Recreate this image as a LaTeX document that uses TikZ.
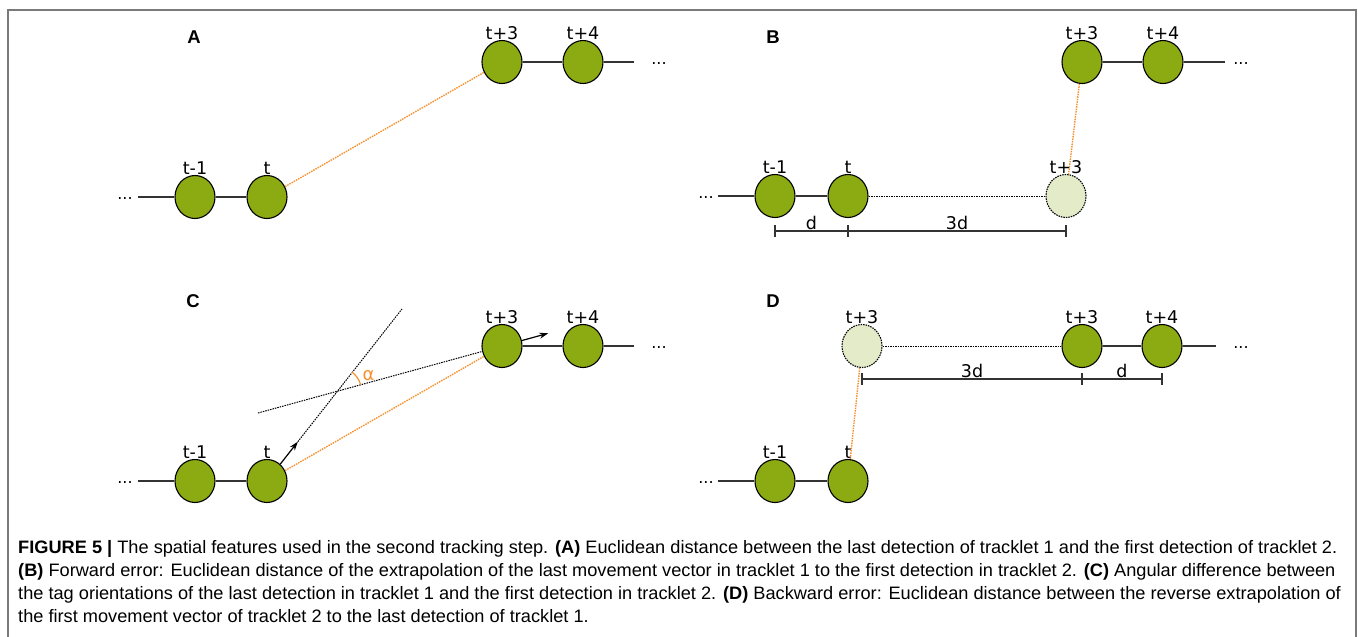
\documentclass[tikz,border=0pt]{standalone}
\usepackage{fontspec}
\setmainfont{DejaVu Sans}
\newfontfamily\capfont{Liberation Sans}
\usetikzlibrary{shapes.geometric,arrows.meta,calc,positioning}

\definecolor{detgreen}{HTML}{8CAA12}
\definecolor{ghostgreen}{HTML}{E3EBC8}
\definecolor{linkorange}{HTML}{F5922F}
\definecolor{framegray}{HTML}{7A7A7A}
\definecolor{chaingray}{HTML}{333333}
\newsavebox{\capbox}
\newcommand{\capfirst}{\textbf{FIGURE 5 |} The spatial features used in the second tracking step. \textbf{(A)} Euclidean distance between the last detection of tracklet 1 and the first detection of tracklet 2.}

\begin{document}
\sbox{\capbox}{\capfont\fontsize{18}{22}\selectfont\capfirst}%
\pgfmathsetmacro{\capsx}{1319/\the\wd\capbox}%
\begin{tikzpicture}[x=1pt, y=-1pt, node distance={72pt},
  det/.style = {draw, ellipse, fill=detgreen, line width=1.1pt, minimum width=40pt, minimum height=43pt, inner sep=0pt},
  ghost/.style = {det, fill=ghostgreen, dash pattern=on 1.5pt off 1pt},
  tlabel/.style = {font=\fontsize{17.5}{19}\selectfont, inner sep=0.5pt},
  dots/.style = {font=\fontsize{16}{18}\selectfont, anchor=base, inner sep=0pt},
  panel/.style = {font=\capfont\bfseries\fontsize{18.5}{20}\selectfont},
  chain/.style = {chaingray, line width=1.3pt},
  link/.style = {linkorange, line width=1.4pt, dash pattern=on 1.5pt off 1pt},
  guide/.style = {black, line width=1pt, dash pattern=on 1.5pt off 1pt},
  vec/.style = {-{Stealth[length=9pt,width=6pt]}, line width=1.2pt},
  dim/.style = {chaingray, line width=1.2pt},
  dimlbl/.style = {text=black, font=\fontsize{17.5}{19}\selectfont, above, inner sep=1pt},
  capline/.style = {anchor=base west, inner sep=0pt, font=\capfont\fontsize{18}{22}\selectfont}]

\useasboundingbox (0,0) rectangle (1358,637);
\draw[framegray, line width=1.5pt] (8,637) -- (8,10) -- (1356,10) -- (1356,637);

% panel A
\node[panel] (pA) at (194,37) {A};
\node[dots] (Adl) at (125,199) {...};
\coordinate (Abeg) at (138,197);
\node[det, label={[tlabel]above:t-1}] (A1) at (195,197) {};
\node[det, label={[tlabel]above:t}] (A2) [right of=A1] {};
\node[det, label={[tlabel]above:t+3}] (A3) at (502,62) {};
\node[det, label={[tlabel]above:t+4}] (A4) [right of=A3, node distance=81pt] {};
\coordinate (Aend) at (634,62);
\node[dots] (Adr) at (659,64) {...};
\draw[chain] (Abeg) -- (A1) -- (A2);
\draw[chain] (A3) -- (A4) -- (Aend);
\draw[link] (A2) -- (A3);

% panel B
\node[panel] (pB) at (773,37) {B};
\node[dots] (Bdl) at (706,198) {...};
\coordinate (Bbeg) at (718,196);
\node[det, label={[tlabel]above:t-1}] (B1) at (775,196) {};
\node[det, label={[tlabel]above:t}] (B2) [right of=B1, node distance=73pt] {};
\node[ghost, label={[tlabel]above:t+3}] (Bg) at (1066,196) {};
\node[det, label={[tlabel]above:t+3}] (B3) at (1082,62) {};
\node[det, label={[tlabel]above:t+4}] (B4) [right of=B3, node distance=81pt] {};
\coordinate (Bend) at (1225,62);
\node[dots] (Bdr) at (1241,64) {...};
\draw[chain] (Bbeg) -- (B1) -- (B2);
\draw[guide] (B2) -- (Bg);
\draw[chain] (B3) -- (B4) -- (Bend);
\draw[link] (B3) -- (Bg);
\coordinate (Bd1) at ($(B1)+(0,35)$);
\coordinate (Bd2) at ($(B2)+(0,35)$);
\coordinate (Bd3) at ($(Bg)+(0,35)$);
\draw[dim] (Bd1) -- node[dimlbl] {d} (Bd2) -- node[dimlbl] {3d} (Bd3);
\foreach \p in {Bd1,Bd2,Bd3}
  \draw[dim] ($(\p)+(0,-6)$) -- ($(\p)+(0,6)$);

% panel C
\node[panel] (pC) at (193,301) {C};
\node[dots] (Cdl) at (125,483) {...};
\coordinate (Cbeg) at (138,481);
\node[det, label={[tlabel]above:t-1}] (C1) at (195,481) {};
\node[det, label={[tlabel]above:t}] (C2) [right of=C1] {};
\node[det, label={[tlabel]above:t+3}] (C3) at (502,346) {};
\node[det, label={[tlabel]above:t+4}] (C4) [right of=C3, node distance=81pt] {};
\coordinate (Cend) at (634,346);
\node[dots] (Cdr) at (659,348) {...};
\draw[chain] (Cbeg) -- (C1) -- (C2);
\draw[chain] (C3) -- (C4) -- (Cend);
\coordinate (Ctop) at (402,309);
\coordinate (Cfar) at (258,413);
\coordinate (Ctip) at ($(C2)!50pt!(Ctop)$);
\coordinate (C3tip) at ($(C3)!-48pt!(Cfar)$);
\draw[guide] (Ctip) -- (Ctop);
\draw[guide] (Cfar) -- (C3);
\draw[link] (C2) -- (C3);
\draw[vec] (C2) -- (Ctip);
\draw[vec] (C3) -- (C3tip);
\coordinate (Cx) at (intersection of C2--Ctop and Cfar--C3);
\draw[linkorange, line width=1.2pt] (Cx) ++(-15.6:24) arc[start angle=-15.6, end angle=-52.1, radius=24];
\node[text=linkorange, font=\fontsize{18}{19}\selectfont] (alph) at ($(Cx)+(31,-16)$) {α};

% panel D
\node[panel] (pD) at (773,301) {D};
\node[dots] (Ddl) at (706,483) {...};
\coordinate (Dbeg) at (718,481);
\node[det, label={[tlabel]above:t-1}] (D1) at (775,481) {};
\node[det, label={[tlabel]above:t}] (D2) [right of=D1, node distance=73pt] {};
\node[ghost, label={[tlabel]above:t+3}] (Dg) at (862,346) {};
\node[det, label={[tlabel]above:t+3}] (D3) at (1082,346) {};
\node[det, label={[tlabel]above:t+4}] (D4) [right of=D3, node distance=80pt] {};
\coordinate (Dend) at (1216,346);
\node[dots] (Ddr) at (1241,348) {...};
\draw[chain] (Dbeg) -- (D1) -- (D2);
\draw[guide] (Dg) -- (D3);
\draw[chain] (D3) -- (D4) -- (Dend);
\draw[link] (Dg) -- (D2);
\coordinate (Dd1) at ($(Dg)+(0,33)$);
\coordinate (Dd2) at ($(D3)+(0,33)$);
\coordinate (Dd3) at ($(D4)+(0,33)$);
\draw[dim] (Dd1) -- node[dimlbl] {3d} (Dd2) -- node[dimlbl] {d} (Dd3);
\foreach \p in {Dd1,Dd2,Dd3}
  \draw[dim] ($(\p)+(0,-6)$) -- ($(\p)+(0,6)$);

% caption
\node[capline] (cap1) at (18,553) {\scalebox{\capsx}[1]{\capfirst}};
\node[capline] (cap2) at (18,576) {\scalebox{\capsx}[1]{\textbf{(B)} Forward error: Euclidean distance of the extrapolation of the last movement vector in tracklet 1 to the first detection in tracklet 2. \textbf{(C)} Angular difference between}};
\node[capline] (cap3) at (18,599) {\scalebox{\capsx}[1]{the tag orientations of the last detection in tracklet 1 and the first detection in tracklet 2. \textbf{(D)} Backward error: Euclidean distance between the reverse extrapolation of}};
\node[capline] (cap4) at (18,622) {\scalebox{\capsx}[1]{the first movement vector of tracklet 2 to the last detection of tracklet 1.}};
\end{tikzpicture}
\end{document}
